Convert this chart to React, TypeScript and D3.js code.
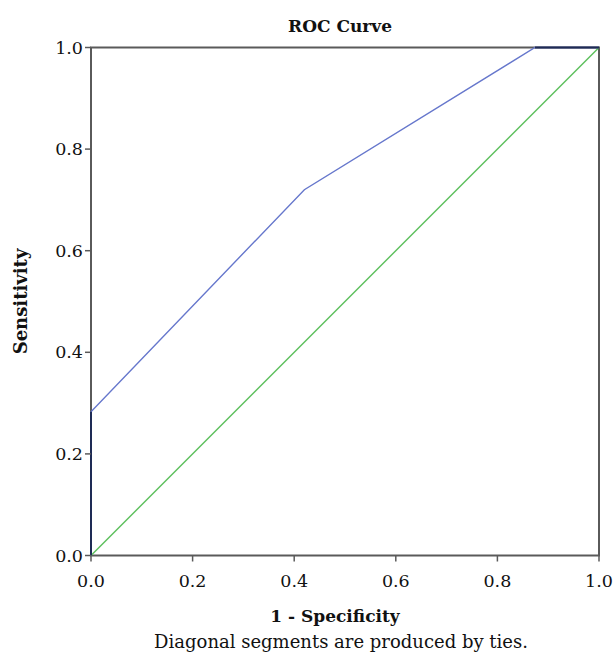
import React from "react";
import * as d3 from "d3";

const fpr = [0, 0, 0.42, 0.874, 1];
const tpr = [0, 0.283, 0.72, 1, 1];
const refX = [0, 1];
const refY = [0, 1];
const tickValues = [0, 0.2, 0.4, 0.6, 0.8, 1.0];

const title = "ROC Curve";
const xLabel = "1 - Specificity";
const yLabel = "Sensitivity";
const footnote = "Diagonal segments are produced by ties.";

const W = 613;
const H = 657;
const left = 91;
const right = 599;
const top = 47.5;
const bottom = 555.5;

export default function App() {
  const x = d3.scaleLinear().domain([0, 1]).range([left, right]);
  const y = d3.scaleLinear().domain([0, 1]).range([bottom, top]);
  const line = d3
    .line<[number, number]>()
    .x((d) => x(d[0]))
    .y((d) => y(d[1]));
  const rocPts = fpr.map((v, i) => [v, tpr[i]] as [number, number]);
  const refPts = refX.map((v, i) => [v, refY[i]] as [number, number]);
  const font = "'DejaVu Serif', serif";
  const axisColor = "#5a5a5a";
  return (
    <svg
      width={W}
      height={H}
      style={{ position: "absolute", left: 0, top: 0, background: "#fff" }}
      fontFamily={font}
    >
      <rect x={0} y={0} width={W} height={H} fill="#fff" />
      <rect
        x={left}
        y={top}
        width={right - left}
        height={bottom - top}
        fill="none"
        stroke={axisColor}
        strokeWidth={2}
      />
      <path d={line(refPts) || ""} fill="none" stroke="#5cbf5c" strokeWidth={1.4} />
      <path d={line(rocPts) || ""} fill="none" stroke="#6677cc" strokeWidth={1.4} />
      <path
        d={line([rocPts[0], rocPts[1]]) || ""}
        fill="none"
        stroke="#1e2b55"
        strokeWidth={2}
      />
      <path
        d={line([rocPts[3], rocPts[4]]) || ""}
        fill="none"
        stroke="#1e2b55"
        strokeWidth={2}
      />
      {tickValues.map((t) => (
        <g key={"y" + t}>
          <line x1={left - 6} x2={left} y1={y(t)} y2={y(t)} stroke={axisColor} strokeWidth={1.5} />
          <text x={left - 8} y={y(t)} dy="0.35em" textAnchor="end" fontSize={17.5} fill="#111">
            {d3.format(".1f")(t)}
          </text>
        </g>
      ))}
      {tickValues.map((t) => (
        <g key={"x" + t}>
          <line x1={x(t)} x2={x(t)} y1={bottom} y2={bottom + 6} stroke={axisColor} strokeWidth={1.5} />
          <text x={x(t)} y={587} textAnchor="middle" fontSize={17.5} fill="#111">
            {d3.format(".1f")(t)}
          </text>
        </g>
      ))}
      <text x={340} y={32} textAnchor="middle" fontSize={17} fontWeight="bold" fill="#111">
        {title}
      </text>
      <text x={335} y={622} textAnchor="middle" fontSize={17} fontWeight="bold" fill="#111">
        {xLabel}
      </text>
      <text
        transform={`translate(27, ${(top + bottom) / 2}) rotate(-90)`}
        textAnchor="middle"
        fontSize={18}
        fontWeight="bold"
        fill="#111"
      >
        {yLabel}
      </text>
      <text x={341} y={648} textAnchor="middle" fontSize={18} fill="#111">
        {footnote}
      </text>
    </svg>
  );
}
